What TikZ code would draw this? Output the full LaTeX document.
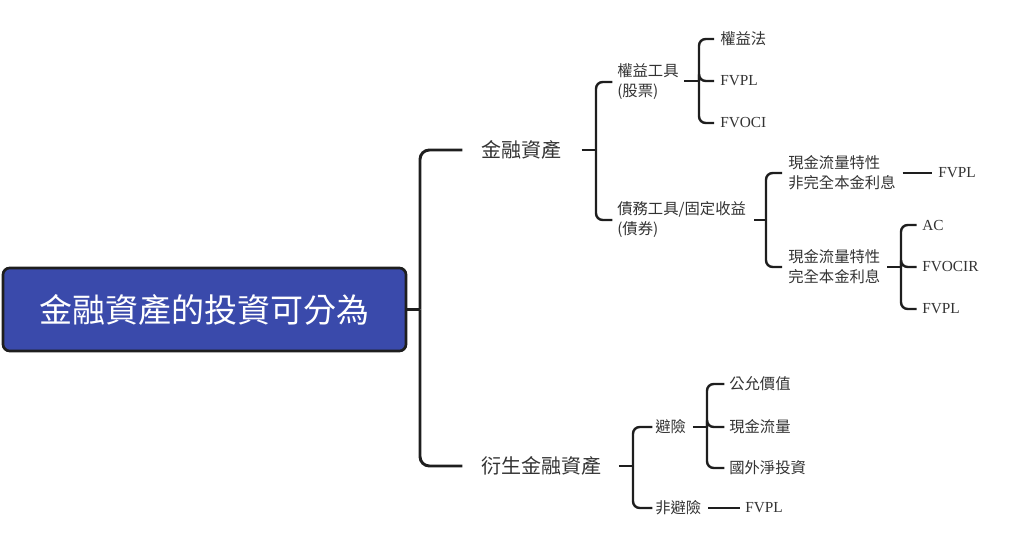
\documentclass[tikz,border=0pt]{standalone}
\usepackage{fontspec}
\setmainfont{Noto Sans CJK TC}
\newfontfamily\lat{Liberation Serif}
\definecolor{rootblue}{HTML}{3A4AAB}
\definecolor{ink}{HTML}{1E1E1E}
\definecolor{txt}{HTML}{333333}
\tikzset{
  rootbox/.style={draw=ink, line width=2pt, fill=rootblue, rounded corners=5pt, text=white,
    minimum width=302.25pt, minimum height=62.25pt, font=\fontsize{24.75}{28}\selectfont, inner sep=0pt},
  lvone/.style={anchor=west, inner sep=0pt, text=txt, font=\fontsize{15}{18}\selectfont},
  lvtwo/.style={anchor=west, inner sep=0pt, text=txt, align=left, font=\fontsize{11.5}{15}\selectfont},
  latn/.style={anchor=west, inner sep=0pt, text=txt, font=\lat\fontsize{11.5}{14}\selectfont},
  mainbr/.style={draw=ink, line width=2.2pt, rounded corners=7pt},
  subbr/.style={draw=ink, line width=1.8pt, rounded corners=5pt},
}
\begin{document}
\begin{tikzpicture}[x=0.75pt, y=-0.75pt]
\useasboundingbox (0,0) rectangle (1024,545);
% root
\node[rootbox] (root) at (204.5,309.5) {金融資產的投資可分為};
% level 1
\node[lvone] (fa) at (481,150) {金融資產};
\node[lvone] (der) at (481,466) {衍生金融資產};
\coordinate (j0) at (420,309.5);
\draw[mainbr] (root.east) -- (j0);
\draw[mainbr] (j0) |- ([xshift=-14pt]fa.west);
\draw[mainbr] (j0) |- ([xshift=-14pt]der.west);
% financial assets
\node[lvtwo] (eq) at (617,82) {權益工具\\(股票)};
\node[lvtwo] (debt) at (617,220) {債務工具/固定收益\\(債券)};
\coordinate (j1) at (596,150);
\draw[subbr] ([xshift=15pt]fa.east) -- (j1);
\draw[subbr] (j1) |- ([xshift=-3.5pt]eq.west);
\draw[subbr] (j1) |- ([xshift=-3.5pt]debt.west);
% equity
\node[lvtwo] (eqm) at (720,39) {權益法};
\node[latn] (eqf) at (720,81) {FVPL};
\node[latn] (eqo) at (720,123) {FVOCI};
\coordinate (j2) at (699,81);
\draw[subbr] ([xshift=4pt]eq.east |- j2) -- (j2);
\draw[subbr] (j2) |- ([xshift=-4.5pt]eqm.west);
\draw[subbr] (j2) |- ([xshift=-4.5pt]eqf.west);
\draw[subbr] (j2) |- ([xshift=-4.5pt]eqo.west);
% debt
\node[lvtwo] (cfn) at (788,173) {現金流量特性\\非完全本金利息};
\node[lvtwo] (cfy) at (788,267) {現金流量特性\\完全本金利息};
\coordinate (j3) at (766,220);
\draw[subbr] ([xshift=6pt]debt.east |- j3) -- (j3);
\draw[subbr] (j3) |- ([xshift=-4.5pt]cfn.west);
\draw[subbr] (j3) |- ([xshift=-4.5pt]cfy.west);
% non-SPPI
\node[latn] (cfnf) at (938,173) {FVPL};
\draw[subbr] ([xshift=5pt]cfn.east |- cfnf.west) -- ([xshift=-4.5pt]cfnf.west);
% SPPI
\node[latn] (ac) at (922,225) {AC};
\node[latn] (fvocir) at (922,267) {FVOCIR};
\node[latn] (cfyf) at (922,309) {FVPL};
\coordinate (j4) at (901,267);
\draw[subbr] ([xshift=5pt]cfy.east |- j4) -- (j4);
\draw[subbr] (j4) |- ([xshift=-4pt]ac.west);
\draw[subbr] (j4) |- ([xshift=-4pt]fvocir.west);
\draw[subbr] (j4) |- ([xshift=-4pt]cfyf.west);
% derivatives
\node[lvtwo] (hedge) at (655,427) {避險};
\node[lvtwo] (nohedge) at (655,508) {非避險};
\coordinate (j5) at (633,466);
\draw[subbr] ([xshift=13pt]der.east) -- (j5);
\draw[subbr] (j5) |- ([xshift=-2pt]hedge.west);
\draw[subbr] (j5) |- ([xshift=-2pt]nohedge.west);
% hedge
\node[lvtwo] (fv) at (729,384) {公允價值};
\node[lvtwo] (cf) at (729,427) {現金流量};
\node[lvtwo] (net) at (729,468) {國外淨投資};
\coordinate (j6) at (707,427);
\draw[subbr] ([xshift=5pt]hedge.east) -- (j6);
\draw[subbr] (j6) |- ([xshift=-3.5pt]fv.west);
\draw[subbr] (j6) |- ([xshift=-3.5pt]cf.west);
\draw[subbr] (j6) |- ([xshift=-3.5pt]net.west);
% non-hedge
\node[latn] (nhf) at (745,508) {FVPL};
\draw[subbr] ([xshift=5pt]nohedge.east) -- ([xshift=-4pt]nhf.west);
\end{tikzpicture}
\end{document}
